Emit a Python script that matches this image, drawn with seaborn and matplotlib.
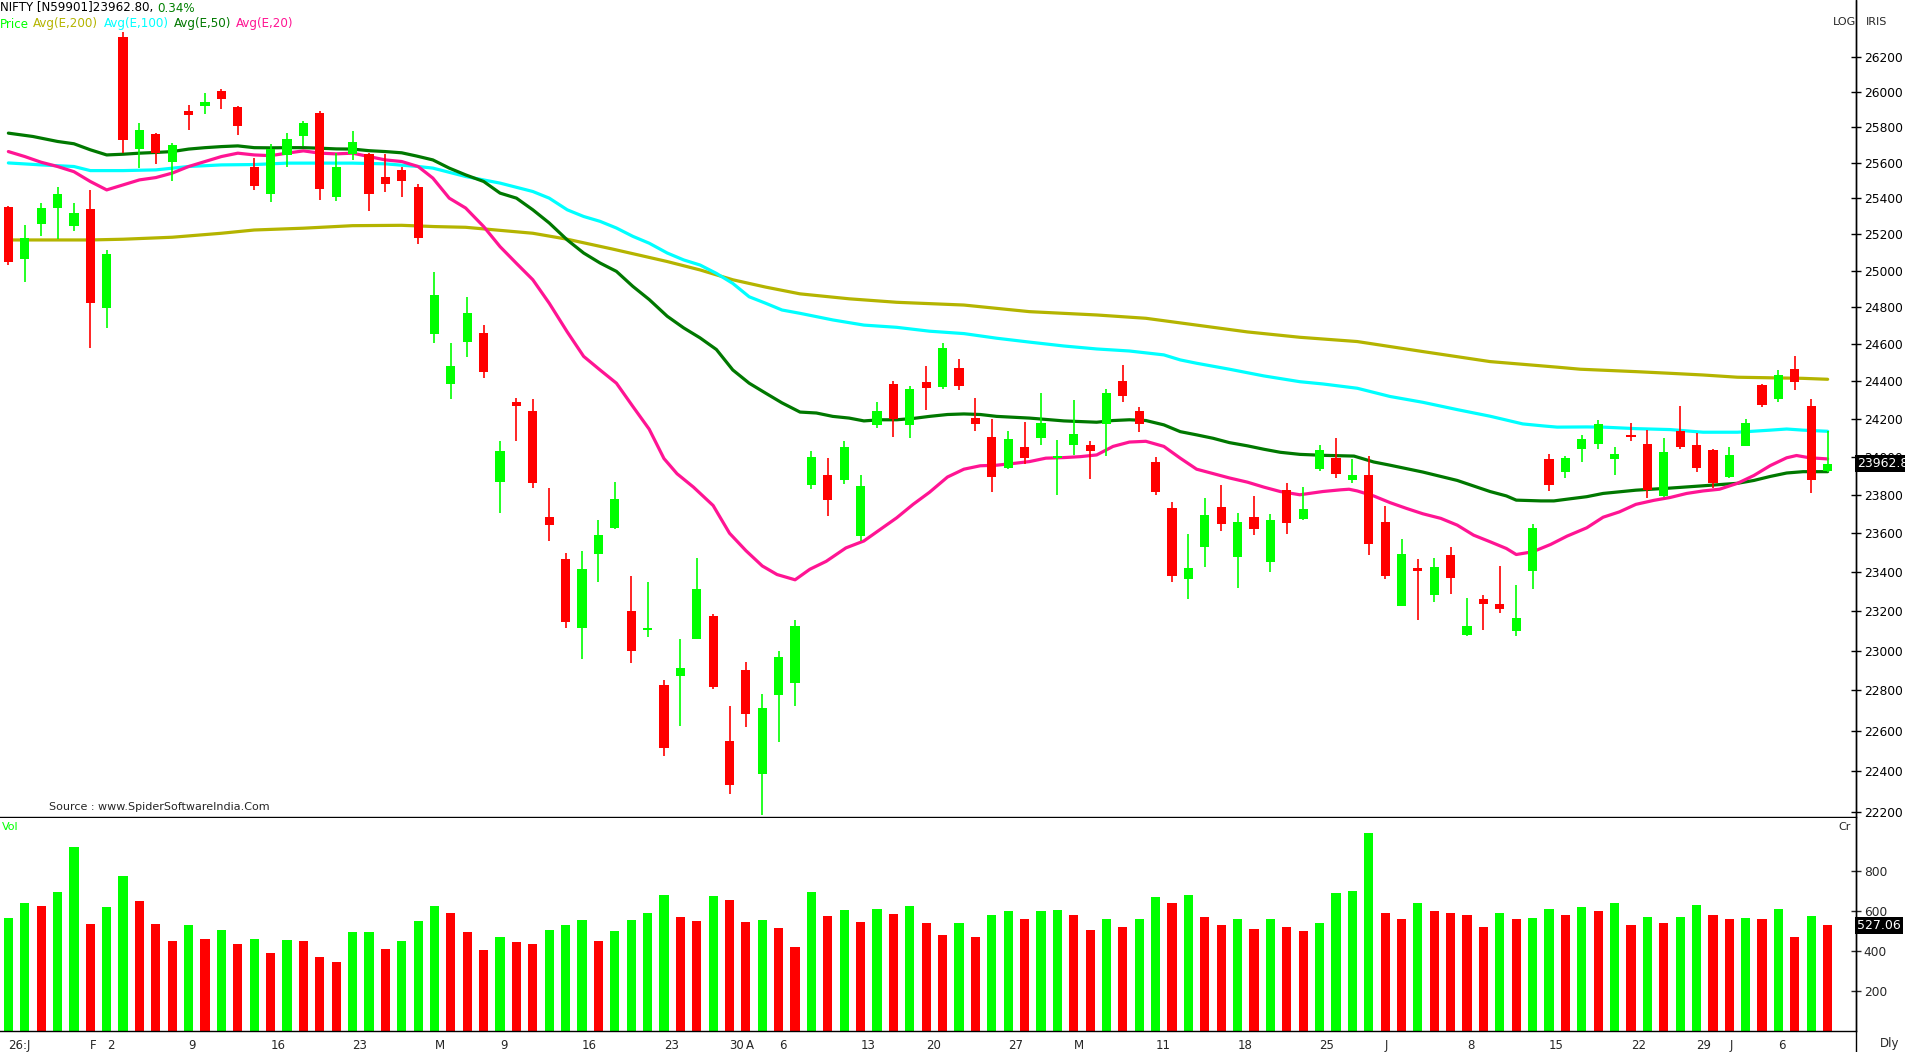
import numpy as np
import pandas as pd
import matplotlib
matplotlib.use("Agg")
import matplotlib.pyplot as plt
from matplotlib.ticker import FixedLocator, FuncFormatter, NullLocator
from matplotlib.lines import Line2D
import seaborn as sns

# daily candles, one per trading day
opens = [25352, 25066, 25259, 25348, 25248, 25341, 24798, 26316, 25677, 25762,
         25604, 25892, 25920, 26006, 25915, 25575, 25424, 25643, 25750, 25880,
         25408, 25649, 25649, 25520, 25559, 25464, 24657, 24388, 24613, 24662,
         23866, 24291, 24243, 23683, 23468, 23115, 23495, 23628, 23201, 23105,
         22827, 22873, 23060, 23175, 22549, 22902, 22383, 22777, 22837, 23850,
         23906, 23877, 23588, 24169, 24386, 24169, 24396, 24372, 24472, 24205,
         24104, 23941, 24053, 24096, 23992, 24064, 24059, 24174, 24402, 24243,
         23972, 23730, 23362, 23530, 23736, 23476, 23683, 23450, 23827, 23674,
         23936, 23993, 23876, 23901, 23656, 23228, 23420, 23280, 23490, 23079,
         23263, 23237, 23100, 23406, 23988, 23919, 24042, 24069, 23988, 24112,
         24069, 23795, 24134, 24064, 24036, 23891, 24058, 24381, 24308, 24467,
         24270, 23924]
highs = [25360, 25252, 25374, 25463, 25374, 25445, 25114, 26343, 25824, 25765,
         25711, 25926, 25995, 26017, 25918, 25626, 25705, 25767, 25835, 25892,
         25654, 25779, 25655, 25649, 25575, 25480, 24993, 24608, 24856, 24706,
         24084, 24313, 24308, 23833, 23500, 23510, 23670, 23865, 23380, 23349,
         22852, 23060, 23474, 23185, 22720, 22943, 22784, 23000, 23155, 24031,
         23994, 24080, 23906, 24291, 24402, 24375, 24483, 24607, 24521, 24313,
         24199, 24136, 24184, 24340, 24089, 24302, 24085, 24359, 24489, 24264,
         23999, 23762, 23596, 23783, 23850, 23704, 23791, 23699, 23860, 23840,
         24059, 24096, 23988, 24004, 23741, 23569, 23468, 23474, 23527, 23268,
         23284, 23431, 23332, 23650, 24015, 24004, 24112, 24194, 24053, 24178,
         24140, 24096, 24270, 24123, 24042, 24053, 24199, 24384, 24462, 24537,
         24308, 24136]
lows = [25030, 24940, 25193, 25175, 25220, 24578, 24686, 25655, 25572, 25591,
        25498, 25784, 25875, 25903, 25756, 25447, 25380, 25575, 25694, 25391,
        25385, 25615, 25330, 25436, 25408, 25147, 24608, 24308, 24533, 24420,
        23705, 24085, 23835, 23561, 23115, 22959, 23351, 23623, 22935, 23069,
        22472, 22624, 23058, 22808, 22285, 22619, 22187, 22545, 22723, 23829,
        23689, 23855, 23561, 24153, 24104, 24101, 24248, 24359, 24354, 24136,
        23812, 23935, 23963, 24064, 23801, 24011, 23882, 24001, 24288, 24132,
        23801, 23351, 23264, 23428, 23614, 23319, 23593, 23402, 23598, 23670,
        23925, 23888, 23861, 23490, 23362, 23225, 23156, 23249, 23286, 23074,
        23105, 23188, 23074, 23314, 23818, 23888, 23972, 24042, 23901, 24080,
        23785, 23790, 24042, 23919, 23838, 23888, 24055, 24264, 24291, 24354,
        23807, 23920]
closes = [25050, 25180, 25345, 25424, 25320, 24825, 25092, 25730, 25784, 25653,
          25700, 25869, 25943, 25957, 25807, 25470, 25677, 25733, 25824, 25453,
          25575, 25716, 25424, 25480, 25498, 25180, 24867, 24483, 24768, 24452,
          24030, 24266, 23861, 23641, 23146, 23415, 23590, 23777, 22999, 23115,
          22511, 22912, 23313, 22818, 22329, 22680, 22713, 22968, 23123, 23999,
          23772, 24053, 23845, 24243, 24199, 24359, 24366, 24580, 24377, 24174,
          23893, 24093, 23995, 24178, 24002, 24121, 24031, 24340, 24323, 24174,
          23813, 23377, 23420, 23693, 23647, 23656, 23620, 23667, 23651, 23725,
          24036, 23908, 23906, 23546, 23382, 23495, 23406, 23426, 23367, 23123,
          23238, 23213, 23165, 23628, 23850, 23993, 24091, 24173, 24015, 24102,
          23827, 24026, 24053, 23940, 23859, 24010, 24178, 24275, 24434, 24396,
          23875, 23962.8]
volumes = [563, 638, 623, 692, 917, 533, 618, 772, 648, 533,
           448, 528, 458, 503, 433, 458, 388, 453, 450, 368,
           343, 493, 496, 408, 448, 548, 623, 588, 493, 403,
           468, 443, 433, 503, 528, 553, 448, 498, 553, 588,
           677, 568, 548, 672, 653, 543, 553, 513, 418, 692,
           573, 603, 543, 608, 583, 623, 538, 478, 540, 470,
           580, 600, 560, 600, 605, 580, 505, 560, 520, 560,
           670, 640, 680, 570, 530, 560, 510, 560, 520, 500,
           540, 690, 700, 985, 590, 560, 640, 600, 590, 580,
           520, 590, 560, 565, 610, 580, 620, 600, 640, 530,
           570, 540, 570, 630, 580, 560, 565, 560, 610, 470,
           575, 527.06]

# exponential averages as drawn on the chart (candle position, value)
ema200_x = [0, 5, 7, 10, 13, 15, 18, 21, 24, 26, 27.9, 32, 34.1, 36.9, 40.2, 42.2, 44.2, 46.2, 48.3, 51.3,
            54.2, 58.3, 62.3, 66.4, 69.4, 72.5, 75.6, 78.8, 82.3, 86.3, 90.4, 94.5, 95.9, 99.3, 101.4,
            103.4, 105.5, 109.5, 111]
ema200_y = [25169, 25169, 25173, 25184, 25206, 25224, 25234, 25248, 25250, 25243, 25239, 25206, 25173,
            25118, 25050, 25004, 24950, 24910, 24873, 24846, 24827, 24812, 24776, 24758, 24740, 24703,
            24666, 24637, 24614, 24560, 24506, 24476, 24465, 24452, 24443, 24434, 24422, 24416, 24411]
ema100_x = [0, 2, 4, 5, 7, 9, 11, 13, 15, 17, 19, 21, 23, 25, 25.9, 27.9, 30, 32, 33, 34.1, 35.1, 36.1,
            37.1, 38.1, 39.1, 40.2, 41.2, 42.2, 43.2, 44.2, 45.2, 46.2, 47.2, 48.3, 49.3, 50.3, 52.2,
            54.2, 56.2, 58.3, 60.3, 62.3, 64.4, 66.4, 68.4, 70.5, 71.5, 72.5, 74.5, 76.6, 78.8, 80.2,
            82.3, 84.3, 86.3, 88.4, 90.4, 92.4, 93.7, 94.5, 96.3, 97.3, 99.3, 101.4, 103.4, 105.5,
            107.5, 108.5, 109.5, 111]
ema100_y = [25598, 25587, 25578, 25555, 25555, 25559, 25578, 25587, 25589, 25597, 25597, 25597, 25593,
            25578, 25569, 25522, 25485, 25438, 25401, 25336, 25299, 25272, 25235, 25189, 25151, 25097,
            25059, 25031, 24985, 24930, 24857, 24822, 24785, 24767, 24749, 24731, 24703, 24691, 24670,
            24657, 24632, 24611, 24590, 24574, 24563, 24542, 24515, 24497, 24465, 24429, 24398, 24386,
            24363, 24319, 24288, 24249, 24214, 24173, 24162, 24156, 24157, 24156, 24148, 24143, 24129,
            24129, 24140, 24146, 24140, 24134]
ema50_x = [0, 1.5, 3, 4, 5, 6, 7, 8, 9, 10, 11, 12, 13, 14, 15, 16, 17, 18, 19, 20, 21, 22, 23, 24, 24.9,
           25.9, 26.9, 27.9, 29, 30, 31, 32, 33, 34.1, 35.1, 36.1, 37.1, 38.1, 39.1, 40.2, 41.2, 42.2,
           43.2, 44.2, 45.2, 46.2, 47.2, 48.3, 49.3, 50.3, 51.3, 52.2, 53.2, 54.2, 55.2, 56.2, 57.3,
           58.3, 59.3, 60.3, 62.3, 64.4, 66.4, 67.4, 68.4, 69.4, 70.5, 71.5, 72.5, 73.5, 74.5, 75.6,
           76.6, 77.6, 78.8, 80.2, 82.1, 83.3, 84.3, 86.3, 88.4, 90.4, 91.4, 92, 93.5, 94.3, 95.1, 96.3,
           97.3, 99.3, 101.4, 103.4, 105.5, 106.5, 107.5, 108.5, 109.5, 111]
ema50_y = [25766, 25747, 25719, 25706, 25672, 25643, 25647, 25653, 25657, 25662, 25676, 25684, 25690,
           25694, 25684, 25683, 25684, 25684, 25681, 25677, 25676, 25667, 25662, 25655, 25637, 25615,
           25569, 25531, 25494, 25429, 25401, 25336, 25263, 25169, 25097, 25042, 24996, 24914, 24842,
           24751, 24688, 24634, 24571, 24461, 24390, 24337, 24285, 24236, 24231, 24213, 24204, 24189,
           24195, 24195, 24202, 24213, 24223, 24226, 24223, 24213, 24204, 24189, 24182, 24191, 24195,
           24191, 24168, 24132, 24115, 24097, 24074, 24057, 24039, 24023, 24012, 24007, 24003, 23972,
           23955, 23919, 23875, 23817, 23794, 23772, 23768, 23768, 23777, 23790, 23807, 23824, 23835,
           23847, 23860, 23875, 23896, 23914, 23921, 23921]
ema20_x = [0, 1, 2, 3, 4, 5, 6, 7, 8, 9, 10, 11, 12, 13, 14, 15, 16, 17, 18, 19, 20, 21, 22, 23, 24, 25,
           25.9, 26.9, 27.9, 29, 30, 31, 32, 33, 34.1, 35.1, 36.1, 37.1, 38.1, 39.1, 40, 40.8, 41.8, 43,
           44, 45, 46, 46.9, 48, 48.9, 49.9, 51.1, 52.2, 53.2, 54.2, 55.2, 56.2, 57.3, 58.3, 59.3, 60.3,
           61.3, 62.3, 63.3, 64.4, 65.4, 66.4, 67.4, 68.4, 69.4, 70.5, 71.5, 72.5, 73.5, 74.5, 75.6,
           76.6, 77.6, 78.8, 80.2, 81.3, 81.8, 82.3, 83.3, 84.3, 85.3, 86.3, 87.4, 88.4, 89.4, 90.4,
           91.4, 92, 93, 94.1, 95.1, 96.3, 97.3, 98.3, 99.3, 100.4, 101.4, 102.4, 103.4, 104.4, 105.5,
           106.5, 107.5, 108.5, 109.1, 109.9, 111]
ema20_y = [25662, 25634, 25602, 25578, 25549, 25494, 25447, 25475, 25503, 25516, 25541, 25578, 25606,
           25634, 25653, 25643, 25639, 25653, 25666, 25653, 25649, 25653, 25634, 25615, 25606, 25578,
           25513, 25401, 25346, 25243, 25132, 25040, 24950, 24822, 24666, 24534, 24461, 24390, 24266,
           24145, 23990, 23910, 23840, 23744, 23600, 23510, 23431, 23387, 23360, 23414, 23455, 23524,
           23560, 23620, 23680, 23750, 23813, 23893, 23934, 23952, 23955, 23964, 23974, 23992, 23995,
           24000, 24009, 24054, 24077, 24081, 24054, 23992, 23934, 23911, 23888, 23866, 23840, 23817,
           23800, 23817, 23826, 23829, 23820, 23794, 23759, 23729, 23701, 23677, 23642, 23590, 23556,
           23521, 23490, 23504, 23542, 23585, 23628, 23683, 23711, 23750, 23771, 23786, 23807, 23820,
           23829, 23860, 23901, 23953, 23994, 24006, 23994, 23988]

date_pos = [0, 5, 6, 11, 16, 21, 26, 30, 35, 40, 44, 45, 47, 52, 56, 61, 65, 70, 75, 80, 84, 89, 94, 99, 103, 105, 108]
date_labels = ["26:J", "F", "2", "9", "16", "23", "M", "9", "16", "23", "30", "A", "6", "13", "20",
               "27", "M", "11", "18", "25", "J", "8", "15", "22", "29", "J", "6"]
price_ticks = list(range(22200, 26201, 200))
vol_ticks = [200, 400, 600, 800]

GREEN = "#00ff00"
RED = "#ff0000"
W, H = 1906, 1052

sns.set_style("white")
plt.rcParams["font.family"] = ["DejaVu Sans"]

fig = plt.figure(figsize=(W / 100, H / 100), dpi=100)
ax = fig.add_axes([0, 1 - 817 / H, 1856 / W, 817 / H])
axv = fig.add_axes([0, 1 - 1031 / H, 1856 / W, 213 / H], sharex=ax)


def px(x, y):
    return x / W, 1 - y / H


df = pd.DataFrame({"o": opens, "h": highs, "l": lows, "c": closes, "v": volumes})
df["i"] = np.arange(len(df))
cols = np.where(df.c >= df.o, GREEN, RED)

ax.set_yscale("log")
ax.vlines(df.i, df.l, df.h, colors=cols, lw=1.2, zorder=3)
ax.bar(df.i, (df.c - df.o).abs().clip(lower=8), bottom=df[["o", "c"]].min(axis=1),
       width=0.56, color=cols, zorder=4, linewidth=0)

for xs, ys, c in [(ema200_x, ema200_y, "#b4b400"), (ema100_x, ema100_y, "#00ffff"),
                  (ema50_x, ema50_y, "#007800"), (ema20_x, ema20_y, "#ff1493")]:
    sns.lineplot(x=xs, y=ys, color=c, lw=2.3, ax=ax, zorder=2)

ax.set_xlim(-0.51, 112.73)
ax.set_ylim(22175, 26530)
ax.yaxis.tick_right()
ax.yaxis.set_major_locator(FixedLocator(price_ticks))
ax.yaxis.set_major_formatter(FuncFormatter(lambda v, p: f"{v:.0f}"))
ax.yaxis.set_minor_locator(NullLocator())
ax.tick_params(axis="y", which="major", direction="inout", length=7, width=1,
               labelsize=8.8, pad=2, colors="black")
ax.tick_params(axis="x", bottom=False, labelbottom=False)
ax.set_xlabel("")
ax.set_ylabel("")

# volume, coloured by rise/fall versus the previous bar
vdiff = df.v.diff().fillna(1)
vcols = np.where(vdiff >= 0, GREEN, RED)
axv.bar(df.i, df.v, width=0.56, color=vcols, linewidth=0)
axv.set_ylim(0, 1062)
axv.yaxis.tick_right()
axv.set_yticks(vol_ticks)
axv.set_yticklabels([str(v) for v in vol_ticks])
axv.tick_params(axis="y", direction="inout", length=7, width=1, labelsize=8.8, pad=2)
axv.set_xticks(date_pos)
axv.set_xticklabels(date_labels, ha="left", fontsize=8.5)
axv.tick_params(axis="x", length=0, pad=6)

for a in (ax, axv):
    a.grid(False)
    for s in ("left", "top"):
        a.spines[s].set_visible(False)
    for s in ("right", "bottom"):
        a.spines[s].set_color("black")
        a.spines[s].set_linewidth(1)

fig.add_artist(Line2D([1856 / W, 1856 / W], [0, 1], transform=fig.transFigure, color="black", lw=1))

# header texts
fs = 8.6
fig.text(*px(0, 8), "NIFTY [N59901]23962.80,", fontsize=fs, va="center", color="black")
fig.text(*px(157, 8), "0.34%", fontsize=fs, va="center", color="#008000")
for x, s, c in [(0, "Price", GREEN), (33, "Avg(E,200)", "#b4b400"), (104, "Avg(E,100)", "#00ffff"),
                (174, "Avg(E,50)", "#007800"), (236, "Avg(E,20)", "#ff1493")]:
    fig.text(*px(x, 24), s, fontsize=fs, va="center", color=c)

fig.text(*px(1833, 22), "LOG", fontsize=8, va="center")
fig.text(*px(1866, 22), "IRIS", fontsize=8, va="center")
fig.text(*px(2, 827), "Vol", fontsize=8, va="center", color=GREEN)
fig.text(*px(1838, 827), "Cr", fontsize=8, va="center")
fig.text(*px(1880, 1044), "Dly", fontsize=8.5, va="center")
fig.text(*px(49, 807), "Source : www.SpiderSoftwareIndia.Com", fontsize=8, va="center")

# last value boxes on the right axis
ax.text(1.0006, closes[-1], f"{closes[-1]:.1f}", transform=ax.get_yaxis_transform(),
        fontsize=9, color="white", va="center", ha="left", zorder=10,
        bbox=dict(boxstyle="square,pad=0.15", fc="black", ec="none"))
axv.text(1.0006, volumes[-1], f"{volumes[-1]:.2f}", transform=axv.get_yaxis_transform(),
         fontsize=9, color="white", va="center", ha="left", zorder=10,
         bbox=dict(boxstyle="square,pad=0.15", fc="black", ec="none"))

fig.savefig("out.png", dpi=100)
